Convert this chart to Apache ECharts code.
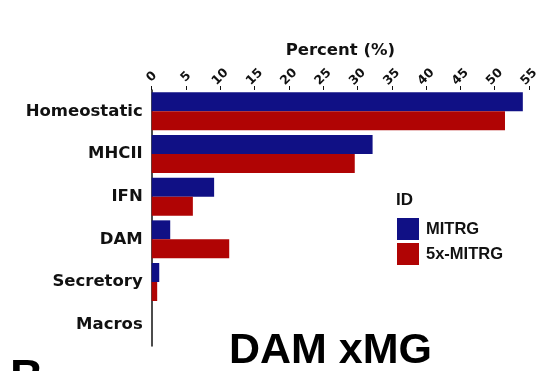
<!DOCTYPE html>
<html><head><meta charset="utf-8">
<script src="https://cdn.jsdelivr.net/npm/echarts@6/dist/echarts.min.js"></script>
<style>html,body{margin:0;padding:0;background:#fff}#c{width:542px;height:371px}</style>
</head><body><div id="c"></div>
<script>
const categories = ['Homeostatic', 'MHCII', 'IFN', 'DAM', 'Secretory', 'Macros'];
const mitrg = [54.1, 32.2, 9.1, 2.7, 1.1, 0];
const mitrg5x = [51.5, 29.6, 6.0, 11.3, 0.8, 0];
const xTicks = [0, 5, 10, 15, 20, 25, 30, 35, 40, 45, 50, 55];

const chart = echarts.init(document.getElementById('c'), null, {renderer: 'canvas'});
const sans = 'DejaVu Sans';
const arial = 'Liberation Sans';
chart.setOption({
  animation: false,
  backgroundColor: '#fff',
  grid: {left: 151.7, right: 13, top: 90, bottom: 25, containLabel: false},
  xAxis: {
    type: 'value', position: 'top', min: 0, max: 55, interval: 5,
    name: 'Percent (%)', nameLocation: 'middle', nameGap: 31,
    nameTextStyle: {fontFamily: sans, fontWeight: 'bold', fontSize: 16.5, color: '#111'},
    axisLine: {show: false},
    axisTick: {show: true, length: 4, lineStyle: {color: '#111', width: 1}},
    axisLabel: {rotate: -45, margin: 13, align: 'center', verticalAlign: 'middle',
      fontFamily: sans, fontWeight: 'bold', fontSize: 12.5, color: '#111',
      formatter: v => xTicks.includes(v) ? String(v) : ''},
    splitLine: {show: false}
  },
  yAxis: {
    type: 'category', data: categories, inverse: true,
    axisLine: {show: true, lineStyle: {color: '#111', width: 1.5}},
    axisTick: {show: false},
    axisLabel: {margin: 9, fontFamily: sans, fontWeight: 'bold', fontSize: 16.5, color: '#111'}
  },
  legend: {
    orient: 'vertical', left: 397, top: 218, padding: 0, itemWidth: 22, itemHeight: 22, itemGap: 3,
    icon: 'rect',
    textStyle: {fontFamily: arial, fontWeight: 'bold', fontSize: 16.5, color: '#111', padding: [0, 0, 0, 2]},
    data: ['MITRG', '5x-MITRG']
  },
  series: [
    {name: 'MITRG', type: 'bar', data: mitrg, barGap: '0%', barCategoryGap: '11%',
     itemStyle: {color: '#101085'}},
    {name: '5x-MITRG', type: 'bar', data: mitrg5x, barGap: '0%', barCategoryGap: '11%',
     itemStyle: {color: '#b00404'}}
  ],
  graphic: [
    {type: 'text', left: 396, top: 192, style: {text: 'ID', fontFamily: arial, fontWeight: 'bold', fontSize: 17, fill: '#111'}},
    {type: 'text', left: 229, top: 330, style: {text: 'DAM xMG', fontFamily: arial, fontWeight: 'bold', fontSize: 43, fill: '#000'}},
    {type: 'text', left: 10, top: 356, style: {text: 'B', fontFamily: arial, fontWeight: 'bold', fontSize: 46, fill: '#000'}}
  ]
});
</script></body></html>
